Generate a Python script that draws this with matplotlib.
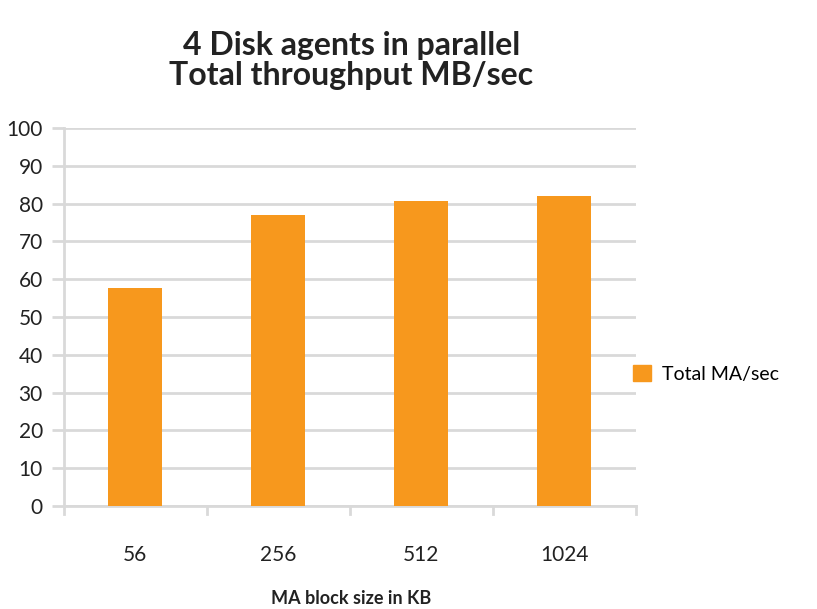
import matplotlib.pyplot as plt
from matplotlib.patches import Patch

block_sizes = ['56', '256', '512', '1024']
throughput = [57.7, 77.0, 80.6, 82.1]

bar_color = '#F7981D'
grid_color = '#D9D9D9'

plt.rcParams['font.family'] = ['Lato', 'DejaVu Sans']

fig = plt.figure(figsize=(8.17, 6.09), dpi=100)
ax = fig.add_axes([0.078, 0.169, 0.70, 0.621])

x = range(len(block_sizes))
ax.bar(x, throughput, width=0.38, color=bar_color, zorder=3)

ax.set_xlim(-0.5, len(block_sizes) - 0.5)
ax.set_ylim(0, 100)
ax.set_yticks(range(0, 101, 10))
ax.set_xticks(list(x))
ax.set_xticklabels(block_sizes)

# gridlines + ticks in the same light grey
ax.grid(axis='y', color=grid_color, linewidth=2, zorder=0)
for s in ['top', 'right']:
    ax.spines[s].set_visible(False)
ax.spines['left'].set_color(grid_color)
ax.spines['left'].set_linewidth(2)
ax.spines['bottom'].set_color(grid_color)
ax.spines['bottom'].set_linewidth(2)
ax.tick_params(axis='y', length=9, width=2, color=grid_color, labelsize=15,
               labelcolor='#222222', pad=6)
ax.tick_params(axis='x', length=0, labelsize=15, labelcolor='#222222', pad=28)

# category separators along the x axis
for b in [i - 0.5 for i in range(len(block_sizes) + 1)]:
    ax.plot([b, b], [0, -2], color=grid_color, lw=2, clip_on=False)

fig.text(0.43, 0.018, 'MA block size in KB', ha='center', va='center',
         fontsize=13, fontweight='bold', color='#222222')

fig.text(0.43, 0.9, '4 Disk agents in parallel\nTotal throughput MB/sec',
         ha='center', va='center', fontsize=23, fontweight='bold',
         color='#222222', linespacing=1.05)

ax.legend(handles=[Patch(color=bar_color, label='Total MA/sec')],
          loc='center left', bbox_to_anchor=(0.965, 0.35), frameon=False,
          fontsize=14, handlelength=0.9, handleheight=0.9, handletextpad=0.6)

fig.savefig('out.png', dpi=100)
